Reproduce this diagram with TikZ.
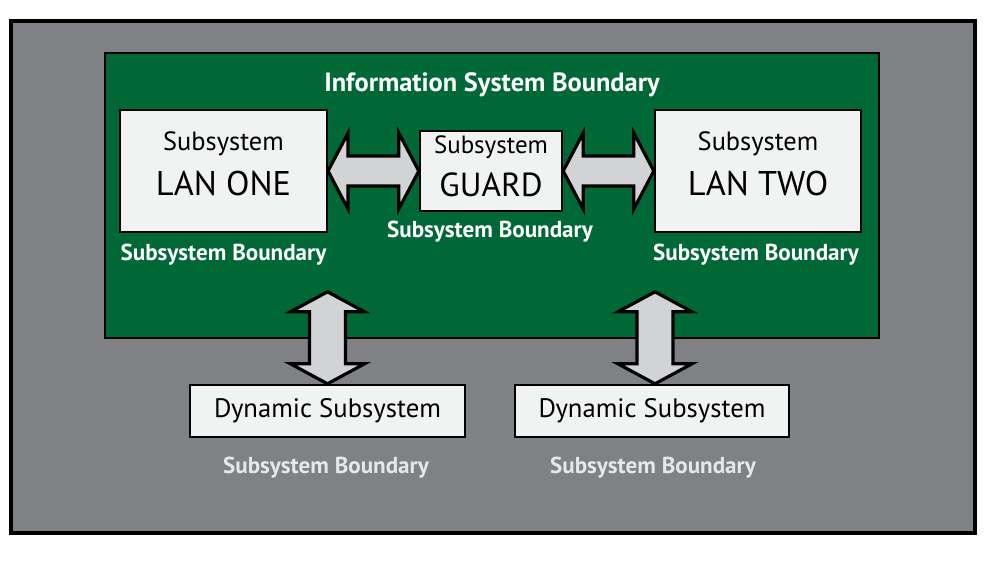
\documentclass[tikz,border=0pt]{standalone}
\usepackage{fontspec}
\setmainfont{PT Sans}
\usetikzlibrary{positioning, calc}

\definecolor{bggray}{HTML}{808185}
\definecolor{isgreen}{HTML}{006837}
\definecolor{boxfill}{HTML}{F1F2F2}
\definecolor{arrowfill}{HTML}{D1D3D4}
\definecolor{lbllight}{HTML}{E6E7E8}

% fat double arrows between two named points
\newcommand{\hfatarrow}[2]{%
  \draw[fatarrow] (#1) -- ++(20,-38) -- ++(0,23) -- ($(#2)+(-20,-15)$) -- ++(0,-23)
    -- (#2) -- ++(-20,38) -- ++(0,-23) -- ($(#1)+(20,15)$) -- ++(0,23) -- cycle;}
\newcommand{\vfatarrow}[2]{%
  \draw[fatarrow] (#1) -- ++(37,20) -- ++(-19,0) -- ($(#2)+(18,-20)$) -- ++(19,0)
    -- (#2) -- ++(-37,-20) -- ++(19,0) -- ($(#1)+(-18,20)$) -- ++(-19,0) -- cycle;}

\begin{document}
\begin{tikzpicture}[x=0.75pt, y=-0.75pt,
  subbox/.style={draw=black, line width=1.8pt, fill=boxfill, inner sep=0pt, align=center},
  bndlabel/.style={anchor=base, font=\bfseries\fontsize{17.3}{17.3}\selectfont},
  fatarrow/.style={draw=black, line width=2.4pt, fill=arrowfill}]
\useasboundingbox (0,0) rectangle (992,563);

\fill[white] (0,0) rectangle (992,563);
\draw[fill=bggray, line width=2.4pt] (11,21) rectangle (975,533);
\draw[fill=isgreen, line width=1.5pt] (105,53) rectangle (879,338);
\node[bndlabel, text=white, font=\bfseries\fontsize{19.8}{19.8}\selectfont] (islabel) at (492,92) {Information System Boundary};

% subsystems inside the boundary
\node[subbox, minimum width=155pt, minimum height=91.5pt, text depth=11pt] (lanone) at (223.5,171)
  {\fontsize{19.8}{19.8}\selectfont Subsystem\\[11pt]\fontsize{25.7}{25.7}\selectfont LAN ONE};
\node[subbox, minimum width=106.5pt, minimum height=60pt, text depth=7pt] (guard) at (491,171)
  {\fontsize{18.7}{18.7}\selectfont Subsystem\\[10pt]\fontsize{25}{25}\selectfont GUARD};
\node[subbox, minimum width=154.5pt, minimum height=91.5pt, text depth=11pt] (lantwo) at (758,171)
  {\fontsize{19.8}{19.8}\selectfont Subsystem\\[11pt]\fontsize{25.7}{25.7}\selectfont LAN TWO};

\node[bndlabel, text=white] (lanonebnd) at (223.5,260) {Subsystem Boundary};
\node[bndlabel, text=white] (guardbnd) at (490,237) {Subsystem Boundary};
\node[bndlabel, text=white] (lantwobnd) at (756,260) {Subsystem Boundary};

% dynamic subsystems outside
\node[subbox, minimum width=206pt, minimum height=39pt] (dynone) at (327.5,411)
  {\fontsize{20}{20}\selectfont Dynamic Subsystem};
\node[subbox, minimum width=205.5pt, minimum height=39pt] (dyntwo) at (652,411)
  {\fontsize{20}{20}\selectfont Dynamic Subsystem};

\node[bndlabel, text=lbllight] (dynonebnd) at (326,473) {Subsystem Boundary};
\node[bndlabel, text=lbllight] (dyntwobnd) at (653,473) {Subsystem Boundary};

\coordinate (dynonelink) at ($(dynone.north)+(0,-92)$);
\coordinate (dyntwotip) at ($(dyntwo.north)+(3,0)$);
\coordinate (dyntwolink) at ($(dyntwotip)+(0,-92)$);

\hfatarrow{lanone.east}{guard.west}
\hfatarrow{guard.east}{lantwo.west}
\vfatarrow{dynonelink}{dynone.north}
\vfatarrow{dyntwolink}{dyntwotip}
\end{tikzpicture}
\end{document}
